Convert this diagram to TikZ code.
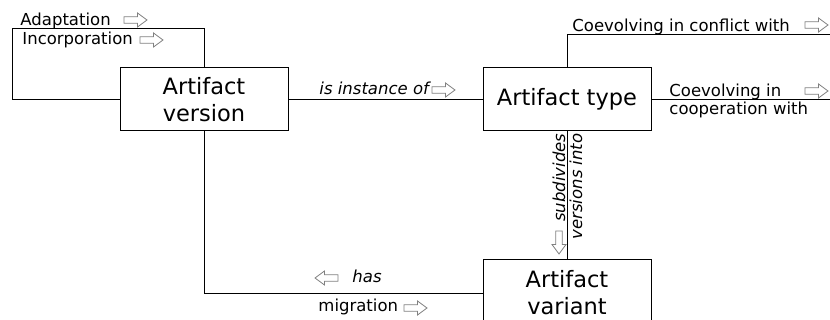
\documentclass[tikz,border=0pt]{standalone}
\usepackage{fontspec}
\setmainfont{DejaVu Sans}
\begin{document}
\begin{tikzpicture}[x=1pt,y=-1pt,
  line width=0.9pt,
  box/.style={draw,line width=1pt,minimum width=168pt,minimum height=63pt,inner sep=0pt,align=center,font=\fontsize{22.5}{27}\selectfont},
  lbl/.style={inner sep=0pt,font=\fontsize{16.5}{19}\selectfont},
  ilbl/.style={lbl,font=\fontsize{16.5}{19}\selectfont\itshape},
  arrowst/.style={draw=black!50,fill=white,line width=0.8pt,line join=miter},
  pics/harrow/.style={code={\draw[arrowst] (0,-3.3) -- (13.5,-3.3) -- (13.5,-7) -- (23,0) -- (13.5,7) -- (13.5,3.3) -- (0,3.3) -- cycle;}}
]
\useasboundingbox (0,0) rectangle (830,320);
\clip (0,0) rectangle (830,320);

\node[box] (version) at (204,99.5) {Artifact\\version};
\node[box] (type) at (567,99.5) {Artifact type};
\node[box,minimum height=66pt] (variant) at (567,293) {Artifact\\variant};

\coordinate (loop) at (12,28);
\coordinate (conf) at (832,34);
\coordinate (edge) at (832,0);

% connectors
\draw (version.west) -| (loop) -| (version.north);
\draw (version.east) -- (type.west);
\draw (type.north) |- (conf);
\draw (type.east) -- (type.east -| edge);
\draw (type.south) -- (variant.north);
\draw (version.south) |- (variant.west);

% labels
\node[lbl,anchor=base west] (adap) at (20,26) {Adaptation};
\pic at (124,20) {harrow};
\node[lbl,anchor=base west] (inco) at (22,45) {Incorporation};
\pic at (140,40) {harrow};

\node[ilbl,anchor=base west] (inst) at (319,95) {is instance of};
\pic at (432,90) {harrow};

\node[lbl,anchor=base west] (conflict) at (572,32) {Coevolving in conflict with};
\pic at (805,25) {harrow};

\node[lbl,anchor=base west] (coop1) at (669,97) {Coevolving in};
\node[lbl,anchor=base west] (coop2) at (669,115) {cooperation with};
\pic at (805,91) {harrow};

\node[ilbl,rotate=90,anchor=base east] (subd) at (565,133) {subdivides};
\node[ilbl,rotate=90,anchor=base east] (vint) at (582,133) {versions into};
\pic[rotate=-90] at (559,231) {harrow};

\pic[rotate=180] at (338,278) {harrow};
\node[ilbl,anchor=base west] (has) at (352,283) {has};
\node[lbl,anchor=base west] (migr) at (318,312) {migration};
\pic at (404,308) {harrow};
\end{tikzpicture}
\end{document}
